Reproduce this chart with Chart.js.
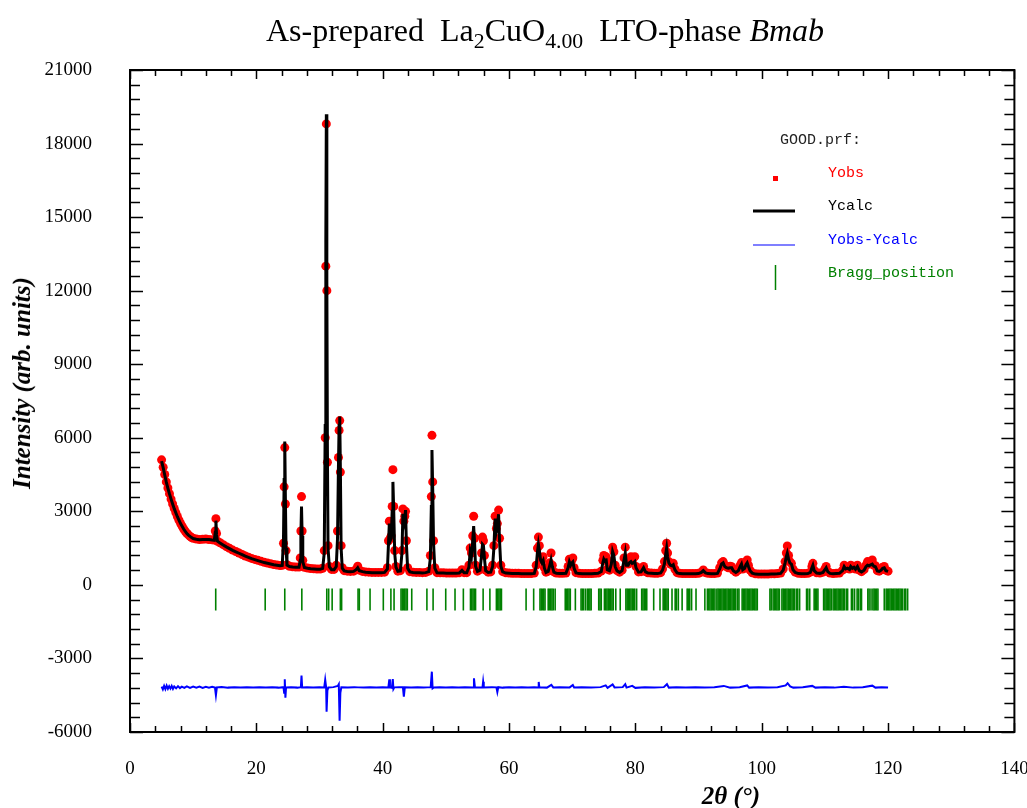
<!DOCTYPE html>
<html>
<head>
<meta charset="utf-8">
<script src="https://cdn.jsdelivr.net/npm/chart.js@4.4.1/dist/chart.umd.min.js"></script>
<style>
  body { margin: 0; background: #fff; }
  #wrap { position: relative; width: 1027px; height: 808px; }
  #title { position: absolute; top: 12px; left: 545px; transform: translateX(-50%); white-space: nowrap;
           font: 32px "Liberation Serif", serif; color: #000; }
  #title sub { font-size: 0.68em; vertical-align: -0.3em; }
  #ytitle { position: absolute; left: 22px; top: 383px; transform: translate(-50%, -50%) rotate(-90deg);
            white-space: nowrap; font: bold italic 25px "Liberation Serif", serif; color: #000; }
  #xtitle { position: absolute; left: 731px; top: 796px; transform: translate(-50%, -50%);
            white-space: nowrap; font: bold italic 25px "Liberation Serif", serif; color: #000; }
</style>
</head>
<body>
<div id="wrap">
  <canvas id="c" width="1027" height="808"></canvas>
  <div id="title">As-prepared&nbsp; La<sub>2</sub>CuO<sub>4.00</sub>&nbsp; LTO-phase <i>Bmab</i></div>
  <div id="ytitle">Intensity (arb. units)</div>
  <div id="xtitle">2θ (°)</div>
</div>
<script>
// 2theta positions of the profile points, observed and calculated intensities
const twoTheta = [5.0,5.25,5.5,5.75,6.0,6.25,6.5,6.75,7.0,7.25,7.5,7.75,8.0,8.25,8.5,8.75,9.0,9.25,9.5,9.75,10.0,10.5,11.0,11.5,12.0,12.5,13.0,13.35,13.5,13.6,13.7,13.85,14.25,14.75,15.25,15.75,16.25,16.75,17.25,17.75,18.25,18.75,19.25,19.75,20.25,20.75,21.25,21.75,22.25,22.75,23.25,23.75,24.1,24.3,24.4,24.5,24.6,24.7,24.85,25.25,25.75,26.25,26.75,26.95,27.05,27.15,27.25,27.35,27.6,28.1,28.6,29.1,29.6,30.1,30.5,30.75,30.9,31.0,31.08,31.16,31.25,31.35,31.55,31.9,32.3,32.65,32.85,33.0,33.1,33.2,33.3,33.42,33.6,33.9,34.4,34.9,35.4,35.8,36.05,36.3,36.8,37.3,37.8,38.3,38.8,39.3,39.8,40.3,40.75,40.92,41.05,41.2,41.35,41.5,41.62,41.75,41.9,42.1,42.4,42.8,43.05,43.2,43.35,43.5,43.62,43.75,43.95,44.3,44.8,45.3,45.8,46.3,46.8,47.3,47.55,47.7,47.8,47.92,48.05,48.25,48.6,49.1,49.6,50.1,50.6,51.1,51.6,52.1,52.55,52.9,53.3,53.65,53.85,54.05,54.25,54.4,54.55,54.7,55.0,55.4,55.65,55.8,55.95,56.1,56.3,56.7,57.1,57.4,57.6,57.8,58.0,58.15,58.35,58.5,58.7,59.0,59.5,60.0,60.5,61.0,61.5,62.0,62.5,63.0,63.5,64.0,64.3,64.5,64.65,64.8,65.0,65.2,65.4,65.6,65.85,66.2,66.45,66.65,66.85,67.1,67.5,68.0,68.5,69.0,69.35,69.55,69.75,69.95,70.1,70.3,70.6,71.1,71.6,72.1,72.6,73.1,73.6,74.1,74.6,74.85,75.0,75.2,75.35,75.55,75.9,76.2,76.4,76.6,76.8,77.1,77.5,77.9,78.2,78.4,78.6,78.85,79.05,79.3,79.5,79.7,79.9,80.1,80.5,80.9,81.3,81.6,82.0,82.5,83.0,83.5,84.0,84.3,84.6,84.8,84.95,85.1,85.3,85.55,85.8,86.0,86.25,86.6,87.0,87.5,88.0,88.5,89.0,89.5,90.0,90.45,90.75,91.1,91.5,92.0,92.5,93.0,93.35,93.65,93.9,94.15,94.4,94.7,95.0,95.25,95.5,95.9,96.3,96.6,96.8,97.0,97.3,97.5,97.7,97.9,98.15,98.5,99.0,99.5,100.0,100.5,101.0,101.5,102.0,102.5,103.0,103.4,103.7,103.9,104.05,104.25,104.45,104.7,104.95,105.3,105.8,106.3,106.8,107.3,107.7,107.95,108.1,108.3,108.7,109.2,109.7,110.0,110.2,110.45,110.8,111.3,111.8,112.3,112.8,113.05,113.3,113.6,113.9,114.1,114.35,114.6,114.85,115.15,115.45,115.8,116.2,116.5,116.75,117.0,117.25,117.5,117.75,118.0,118.3,118.6,118.9,119.15,119.4,119.65,120.0];
const yObs = [5100,4800,4500,4200,3950,3720,3500,3300,3120,2950,2790,2640,2510,2390,2280,2190,2100,2040,1980,1930,1900,1870,1850,1860,1870,1850,1840,1830,2200,2700,2100,1780,1720,1640,1560,1490,1420,1360,1300,1240,1180,1130,1080,1040,1000,960,920,890,860,830,810,790,800,1700,4000,5600,3300,1400,820,760,740,730,730,1100,2200,3600,2200,1000,720,690,670,660,650,650,680,1400,6000,13000,18800,12000,5000,1600,750,630,630,800,2200,5200,6300,6700,4600,1600,700,580,560,550,560,640,760,600,550,530,520,510,510,510,510,520,700,1800,2600,1900,2000,3200,4700,3200,1400,750,560,580,1400,3100,2600,2800,3000,1800,700,540,520,510,510,500,510,560,1200,3600,6100,4200,1800,700,500,490,490,480,480,480,480,490,620,500,500,800,1500,1300,2000,2800,1900,800,560,620,1300,1950,1800,1200,600,520,530,800,1600,2800,2300,2500,3050,1900,800,540,490,480,470,470,470,460,460,460,460,480,800,1500,1950,1600,1100,1000,1150,700,520,560,900,1300,800,530,480,470,470,480,750,1050,850,1000,1100,700,500,470,460,460,460,460,470,480,560,1000,1200,1000,1150,650,600,950,1540,1350,800,580,520,600,1100,1540,900,850,1000,1150,1000,1100,1150,750,530,540,750,540,490,480,470,470,500,650,950,1400,1700,1300,950,850,820,880,650,500,470,460,460,460,460,460,470,520,610,500,470,460,460,480,700,900,950,800,750,700,760,740,600,520,600,800,910,650,720,900,1020,800,600,490,450,440,440,440,440,450,450,460,480,650,950,1300,1590,1200,950,880,650,520,470,460,460,470,520,750,880,600,490,480,520,650,750,550,480,460,470,480,600,800,680,700,650,800,700,760,650,800,600,540,620,800,950,850,900,1020,800,780,580,560,620,720,750,600,560];
const yCalc = [5050,4780,4480,4190,3940,3710,3500,3300,3110,2940,2780,2640,2500,2390,2280,2180,2100,2030,1980,1930,1890,1860,1840,1850,1850,1850,1830,1820,2150,2620,2050,1780,1710,1630,1550,1480,1410,1350,1290,1230,1170,1120,1070,1030,990,950,910,880,850,820,800,780,790,1900,4300,5850,3500,1500,810,750,730,720,720,1000,2000,3200,2000,950,710,680,660,650,640,640,670,1300,6500,14000,19200,12500,5500,1500,740,620,620,750,1900,4900,6500,6870,4800,1500,680,570,550,540,550,620,700,580,540,520,510,500,500,500,500,510,650,1700,2500,1800,1900,3000,4200,3000,1300,720,550,570,1300,2900,2500,2700,3050,1700,680,530,510,500,500,490,500,540,1100,3200,5500,3900,1700,680,490,480,480,470,470,470,470,480,590,490,490,720,1350,1150,1800,2400,1700,760,550,600,1200,1650,1600,1100,580,510,520,750,1500,2700,2200,2400,2880,1800,760,530,480,470,460,460,460,450,450,450,450,470,740,1350,1650,1400,1000,900,1000,680,510,550,800,1020,750,520,470,460,460,470,700,940,800,900,940,680,490,460,450,450,450,450,460,470,540,900,1050,950,1080,620,580,850,1360,1200,750,570,510,580,1000,1290,800,800,900,950,880,900,950,700,520,530,700,530,480,470,460,460,490,600,850,1250,1500,1150,900,800,780,820,620,490,460,450,450,450,450,450,460,510,580,490,460,450,450,470,650,850,900,750,700,680,700,700,580,510,580,750,850,620,680,820,900,750,580,480,440,430,430,430,430,440,440,450,470,600,900,1150,1290,1050,900,850,620,510,460,450,450,460,510,700,800,580,480,470,510,620,700,540,470,450,460,470,580,750,650,680,630,750,680,720,640,750,580,530,600,740,800,780,820,850,760,740,570,550,600,680,700,580,550];

// difference curve (plotted with its offset)
const diffTheta = [5.0,5.2,5.4,5.6,5.8,6.0,6.2,6.4,6.6,6.8,7.0,7.3,7.6,7.9,8.2,8.6,9.0,9.5,10.0,10.5,11.0,11.5,12.0,12.5,13.0,13.45,13.6,13.75,14.5,15.5,16.5,17.5,18.5,19.5,20.5,21.5,22.5,23.5,24.3,24.4,24.5,24.6,24.7,25.5,26.5,27.05,27.15,27.25,28,29,30,30.75,30.9,31.05,31.12,31.25,31.4,32.2,32.9,33.05,33.18,33.3,33.45,34.5,35.5,36.1,37,38,39,40,40.9,41.05,41.15,41.45,41.6,41.7,41.85,42.6,43.2,43.35,43.5,44.5,45.5,46.5,47.6,47.78,47.9,48.1,49,50,51,52,53,54.3,54.45,54.6,55.8,55.9,56.0,57.3,58.0,58.15,58.3,59,60,61,62,63,64,64.6,64.7,64.8,66,66.7,67,68,69.6,70.1,70.3,71.5,73,74.5,75.3,75.6,76.4,76.7,78,78.4,78.6,79.5,80,81.5,83,84.5,85,85.3,86.5,88,89.5,91,92.5,94,95,96.5,97.7,98,99.5,101,102.5,103.8,104.1,104.5,105,106.5,108,108.5,110,111.5,113,114.5,116,117.5,118,119,120];
const diffY = [-4150,-4260,-4120,-4250,-4110,-4240,-4130,-4230,-4120,-4240,-4140,-4220,-4130,-4210,-4150,-4200,-4140,-4200,-4150,-4190,-4150,-4200,-4160,-4190,-4160,-4190,-4500,-4180,-4160,-4190,-4170,-4190,-4170,-4190,-4170,-4180,-4170,-4190,-4170,-4400,-3850,-4600,-4180,-4170,-4190,-4170,-3700,-4180,-4170,-4190,-4170,-4180,-3870,-4180,-5170,-4300,-4180,-4170,-4120,-4050,-5540,-4400,-4180,-4190,-4170,-4180,-4190,-4170,-4190,-4170,-4180,-3850,-4180,-4200,-3840,-4250,-4180,-4170,-4170,-4560,-4180,-4190,-4170,-4190,-4170,-3540,-4220,-4180,-4170,-4190,-4170,-4180,-4170,-4180,-3810,-4180,-4180,-3950,-4180,-4170,-4180,-4370,-4170,-4190,-4170,-4190,-4170,-4190,-4170,-4180,-3960,-4180,-4190,-4080,-4180,-4170,-4180,-4080,-4180,-4170,-4190,-4170,-4100,-4200,-4060,-4180,-4170,-4050,-4190,-4120,-4200,-4170,-4190,-4170,-4050,-4190,-4170,-4190,-4170,-4190,-4170,-4120,-4190,-4170,-4100,-4190,-4170,-4190,-4170,-4100,-4010,-4140,-4190,-4170,-4120,-4190,-4170,-4190,-4150,-4190,-4170,-4110,-4190,-4170,-4180];

// Bragg reflection positions (2theta) and the level where the tick row sits
const braggPositions = [13.57,21.4,24.5,27.2,31.15,31.45,32.0,33.3,33.5,36.1,36.3,38.0,40.1,41.3,41.8,42.9,43.1,43.3,43.5,43.7,43.9,44.6,47.0,47.98,49.98,51.45,52.77,53.9,54.1,54.3,54.5,54.7,55.9,56.97,58.0,58.2,58.4,58.6,58.8,62.7,63.9,64.9,65.1,65.3,65.5,65.7,66.2,66.4,66.6,66.8,67.0,67.3,68.9,69.1,69.3,69.5,69.7,70.5,71.4,71.6,71.8,72.1,72.4,72.6,72.8,73.0,74.2,74.4,74.6,75.1,75.3,75.5,75.7,75.9,76.1,76.3,76.5,76.9,77.6,78.5,78.7,78.9,79.1,79.3,79.5,79.7,79.9,80.2,81.0,81.2,81.4,81.6,81.8,82.9,83.9,84.4,84.6,84.8,85.0,85.2,85.8,86.3,86.5,86.8,87.4,88.2,88.4,88.6,88.9,89.6,91.0,91.4,91.6,91.8,92.0,92.2,92.4,92.6,92.9,93.1,93.3,93.5,93.7,93.9,94.1,94.3,94.5,94.7,94.9,95.1,95.3,95.5,95.7,95.9,96.2,96.4,96.9,97.1,97.3,97.5,97.7,97.9,98.1,98.3,98.5,98.7,98.9,99.1,99.3,101.3,101.5,101.8,102.0,102.2,102.4,102.6,102.8,103.2,103.4,103.6,103.8,104.0,104.2,104.4,104.6,104.8,105.0,105.2,105.5,105.7,106.0,107.1,107.3,107.6,108.3,108.5,108.7,108.9,109.8,110.0,110.2,110.4,110.6,110.8,111.0,111.3,111.5,111.7,111.9,112.1,112.3,112.5,112.7,112.9,113.1,113.4,113.6,114.2,114.4,114.7,115.1,115.3,115.6,115.8,116.8,117.0,117.3,117.6,117.8,118.0,118.2,118.4,119.4,119.7,119.9,120.1,120.3,120.5,120.7,120.9,121.1,121.3,121.5,121.7,121.9,122.1,122.3,122.6,122.8,123.1];
const braggLevel = -600;

const xTicks = [0, 20, 40, 60, 80, 100, 120, 140];
const yTicks = [-6000, -3000, 0, 3000, 6000, 9000, 12000, 15000, 18000, 21000];

const obsPoints = twoTheta.map((t, i) => ({x: t, y: yObs[i]}));
const calcPoints = twoTheta.map((t, i) => ({x: t, y: yCalc[i]}));
const diffPoints = diffTheta.map((t, i) => ({x: t, y: diffY[i]}));
const braggPoints = braggPositions.map(t => ({x: t, y: braggLevel}));

// frame with inward ticks, like the WinPLOTR output
const framePlugin = {
    id: 'frame',
    afterDraw(chart) {
        const ctx = chart.ctx;
        const a = chart.chartArea;
        const xs = chart.scales.x, ys = chart.scales.y;
        ctx.save();
        ctx.strokeStyle = '#000';
        ctx.lineWidth = 1.5;
        for (let v = 0; v <= 140; v += 4) {
            const px = Math.round(xs.getPixelForValue(v)) + 0.5;
            const len = (v % 20 === 0) ? 9 : 6;
            ctx.beginPath();
            ctx.moveTo(px, a.bottom); ctx.lineTo(px, a.bottom - len);
            ctx.moveTo(px, a.top); ctx.lineTo(px, a.top + len);
            ctx.stroke();
        }
        for (let v = -6000; v <= 21000; v += 600) {
            const py = Math.round(ys.getPixelForValue(v)) + 0.5;
            const len = (v % 3000 === 0) ? 13 : 10;
            ctx.beginPath();
            ctx.moveTo(a.left, py); ctx.lineTo(a.left + len, py);
            ctx.moveTo(a.right, py); ctx.lineTo(a.right - len, py);
            ctx.stroke();
        }
        ctx.lineWidth = 2;
        ctx.strokeRect(a.left, a.top, a.right - a.left, a.bottom - a.top);
        ctx.restore();
    }
};

const legendPlugin = {
    id: 'prfLegend',
    afterDraw(chart) {
        const ctx = chart.ctx;
        const ds = chart.data.datasets;
        ctx.save();
        ctx.font = '15px "Liberation Mono", monospace';
        ctx.textBaseline = 'middle';
        ctx.fillStyle = '#222';
        ctx.fillText('GOOD.prf:', 780, 140);

        const textX = 828;
        // Yobs
        ctx.fillStyle = ds[1].pointBackgroundColor;
        ctx.fillRect(773, 176, 5, 5);
        ctx.fillText(ds[1].label, textX, 173);
        // Ycalc
        ctx.strokeStyle = ds[0].borderColor;
        ctx.lineWidth = 3;
        ctx.beginPath(); ctx.moveTo(753, 211); ctx.lineTo(795, 211); ctx.stroke();
        ctx.fillStyle = ds[0].borderColor;
        ctx.fillText(ds[0].label, textX, 206);
        // Yobs-Ycalc
        ctx.strokeStyle = ds[2].borderColor;
        ctx.lineWidth = 1.2;
        ctx.beginPath(); ctx.moveTo(753, 245); ctx.lineTo(795, 245); ctx.stroke();
        ctx.fillStyle = ds[2].borderColor;
        ctx.fillText(ds[2].label, textX, 240);
        // Bragg
        ctx.strokeStyle = ds[3].borderColor;
        ctx.lineWidth = 1.5;
        ctx.beginPath(); ctx.moveTo(775.5, 265); ctx.lineTo(775.5, 290); ctx.stroke();
        ctx.fillStyle = ds[3].borderColor;
        ctx.fillText(ds[3].label, textX, 273);
        ctx.restore();
    }
};

const tickFont = {family: '"Liberation Serif", serif', size: 19};
const plainLabel = (v) => String(v);

new Chart(document.getElementById('c'), {
    type: 'scatter',
    data: {
        datasets: [
            {
                label: 'Ycalc',
                data: calcPoints,
                showLine: true,
                borderColor: '#000000',
                borderWidth: 3,
                pointRadius: 0,
                order: 0
            },
            {
                label: 'Yobs',
                data: obsPoints,
                showLine: false,
                pointRadius: 4.5,
                pointBackgroundColor: '#ff0000',
                pointBorderWidth: 0,
                order: 1
            },
            {
                label: 'Yobs-Ycalc',
                data: diffPoints,
                showLine: true,
                borderColor: '#0000ff',
                borderWidth: 2,
                pointRadius: 0,
                order: 2
            },
            {
                label: 'Bragg_position',
                data: braggPoints,
                showLine: false,
                pointStyle: 'line',
                rotation: 90,
                pointRadius: 11,
                borderColor: '#008000',
                borderWidth: 1.6,
                order: 3
            }
        ]
    },
    options: {
        responsive: false,
        animation: false,
        devicePixelRatio: 1,
        layout: {padding: {top: 70, right: 10, left: 0, bottom: 0}},
        plugins: {
            legend: {display: false},
            tooltip: {enabled: false},
            title: {display: false}
        },
        scales: {
            x: {
                type: 'linear',
                min: 0,
                max: 140,
                afterBuildTicks: (s) => { s.ticks = xTicks.map(v => ({value: v})); },
                grid: {display: false},
                border: {display: false},
                ticks: {padding: 18, color: '#000', font: tickFont, maxRotation: 0, callback: plainLabel},
                afterFit: (s) => { s.height = 76; s.paddingLeft = 0; s.paddingRight = 0; }
            },
            y: {
                type: 'linear',
                min: -6000,
                max: 21000,
                afterBuildTicks: (s) => { s.ticks = yTicks.map(v => ({value: v})); },
                grid: {display: false},
                border: {display: false},
                ticks: {padding: 30, color: '#000', font: tickFont, callback: plainLabel},
                afterFit: (s) => { s.width = 130; s.paddingTop = 0; s.paddingBottom = 0; }
            }
        }
    },
    plugins: [framePlugin, legendPlugin]
});
</script>
</body>
</html>
